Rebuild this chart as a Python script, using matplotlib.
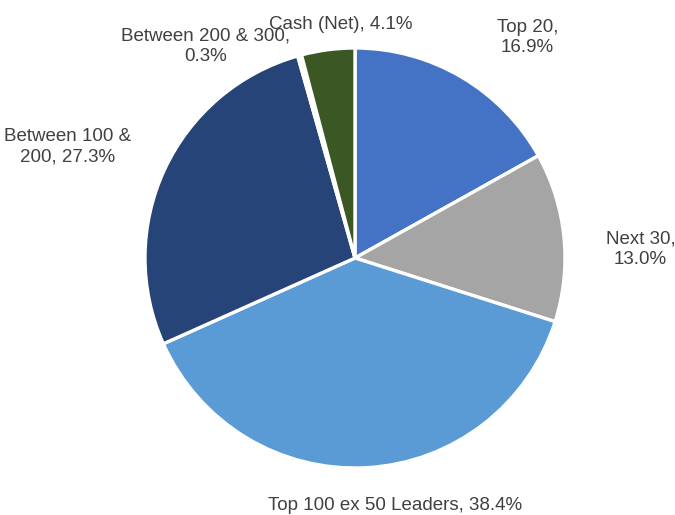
import matplotlib.pyplot as plt

plt.rcParams['font.family'] = ['Liberation Sans', 'DejaVu Sans']

categories = ['Top 20', 'Next 30', 'Top 100 ex 50 Leaders', 'Between 100 & 200',
              'Between 200 & 300', 'Cash (Net)']
shares = [16.9, 13.0, 38.4, 27.3, 0.3, 4.1]
label_texts = ['Top 20,\n16.9%', 'Next 30,\n13.0%', 'Top 100 ex 50 Leaders, 38.4%',
               'Between 100 &\n200, 27.3%', 'Between 200 & 300,\n0.3%', 'Cash (Net), 4.1%']
colors = ['#4472C4', '#A5A5A5', '#5B9BD5', '#264478', '#F2F2F2', '#3A5724']

# label centres in units of the pie radius
label_pos = [(0.82, 1.05), (1.36, 0.04), (0.19, -1.18), (-1.37, 0.53), (-0.71, 1.01), (-0.07, 1.11)]

fig = plt.figure(figsize=(6.75, 5.15), dpi=100)
ax = fig.add_axes([145 / 675, 47 / 515, 420 / 675, 420 / 515])

ax.pie(shares, colors=colors, startangle=90, counterclock=False, radius=1,
       wedgeprops=dict(edgecolor='white', linewidth=2.4))

for txt, (x, y) in zip(label_texts, label_pos):
    ax.text(x, y, txt, ha='center', va='center', fontsize=13.5, color='#404040',
            linespacing=1.25)

ax.set_xlim(-1, 1)
ax.set_ylim(-1, 1)
ax.set_aspect('equal')
ax.axis('off')

fig.savefig('out.png', dpi=100)
